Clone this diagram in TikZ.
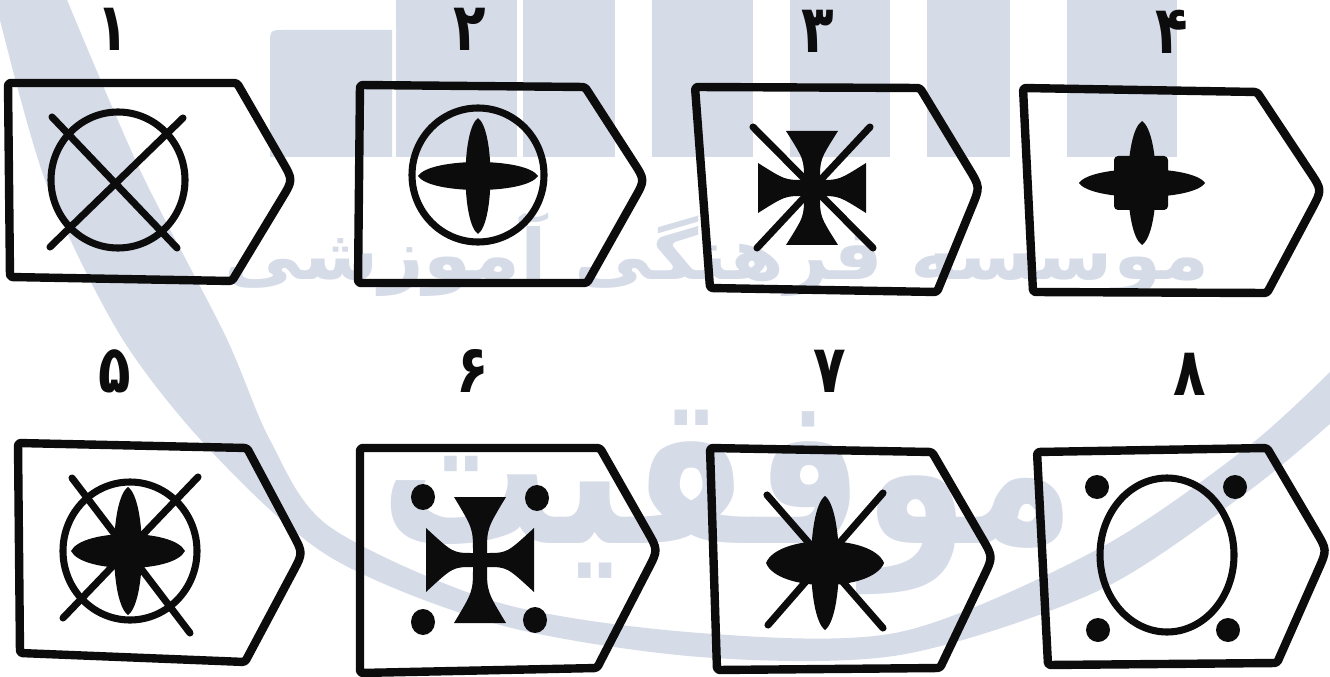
\documentclass[tikz,border=0pt]{standalone}
\usepackage{fontspec}
\usepackage{graphicx}
\usetikzlibrary{calc}
\newfontfamily\digitfont[Script=Arabic]{DejaVu Sans}
\TeXXeTstate=1
\definecolor{wm}{RGB}{214,219,232}
\definecolor{ink}{RGB}{12,12,12}
\tikzset{
  tag/.style={draw=ink, line width=6.3pt, line join=round, rounded corners=2pt},
  xline/.style={draw=ink, line width=5.3pt, line cap=round},
  ring/.style={draw=ink, line width=5.3pt},
  digit/.style={font=\digitfont\bfseries\fontsize{50}{50}\selectfont, text=ink, inner sep=0pt, xscale=0.8, text height=31pt, text depth=0pt},
  wmtext/.style={font=\digitfont\bfseries, text=wm, inner sep=0pt},
}
% tag outline: top-left, top-right, tip, bottom-right, bottom-left
\newcommand\tagshape[5]{\draw[tag] #1 -- #2 -- ($#3!18pt!#2$) .. controls #3 .. ($#3!18pt!#4$) -- #4 -- #5 -- cycle;}
% horizontal / vertical lens petals: centre x, centre y, half length, half width
\newcommand\lensh[4]{\fill[ink,shift={(#1,#2)}] (-#3,0) .. controls ({-0.8*#3},{1.333*#4}) and ({0.8*#3},{1.333*#4}) .. (#3,0) .. controls ({0.8*#3},{-1.333*#4}) and ({-0.8*#3},{-1.333*#4}) .. (-#3,0) -- cycle;}
\newcommand\lensv[4]{\fill[ink,shift={(#1,#2)}] (0,-#3) .. controls ({1.333*#4},{-0.8*#3}) and ({1.333*#4},{0.8*#3}) .. (0,#3) .. controls ({-1.333*#4},{0.8*#3}) and ({-1.333*#4},{-0.8*#3}) .. (0,-#3) -- cycle;}
% cross pattee: cx, cy, vertical arm length, horizontal arm length, vertical end half width, horizontal end half width, stem half width
\newcommand\crosspattee[7]{\fill[ink,shift={(#1,#2)}]
  (-#5,-#3) -- (#5,-#3) .. controls (#7,{-0.5*#3}) .. (#7,-#7) .. controls ({0.5*#4},-#7) .. (#4,-#6)
  -- (#4,#6) .. controls ({0.5*#4},#7) .. (#7,#7) .. controls (#7,{0.5*#3}) .. (#5,#3)
  -- (-#5,#3) .. controls (-#7,{0.5*#3}) .. (-#7,#7) .. controls ({-0.5*#4},#7) .. (-#4,#6)
  -- (-#4,-#6) .. controls ({-0.5*#4},-#7) .. (-#7,-#7) .. controls (-#7,{-0.5*#3}) .. (-#5,-#3) -- cycle;}
\begin{document}
\begin{tikzpicture}[x=0.75pt,y=-0.75pt]
\useasboundingbox (0,0) rectangle (1330,677);
\fill[white] (0,0) rectangle (1330,677);
% ---------- watermark ----------
\begin{scope}
\clip (0,0) rectangle (1330,677);
\fill[wm] plot[smooth] coordinates {(-5,0) (45,180) (120,335) (210,450) (330,557) (500,625) (700,657) (900,655) (1100,590) (1250,490) (1340,415)}
  -- plot[smooth] coordinates {(1340,362) (1250,445) (1100,548) (900,632) (700,633) (500,603) (330,527) (270,440) (225,335) (140,170) (65,-5)} -- cycle;
\fill[wm] (270,157) -- (270,45) .. controls (270,30) .. (285,30) -- (392,30) -- (392,157) -- cycle;
\fill[wm] (396,0) rectangle (517,157);
\fill[wm] (523,0) rectangle (615,157);
\fill[wm] (652,0) rectangle (753,157);
\fill[wm] (790,0) rectangle (890,157);
\fill[wm] (927,0) rectangle (1010,157);
\fill[wm] (1067,0) rectangle (1177,157);
\node[wmtext] (wmA) at (717,255) {\resizebox{739pt}{50pt}{\beginR موسسه فرهنگی آموزشی\endR}};
\node[wmtext, anchor=north] (wmB) at (728,410) {\resizebox{520pt}{100pt}{\beginR موفقیت\endR}};
\end{scope}
% ---------- digits ----------
\node[digit] (d1) at (113,30) {۱};
\node[digit] (d2) at (470,30) {۲};
\node[digit] (d3) at (818,32) {۳};
\node[digit] (d4) at (1172,33) {۴};
\node[digit] (d5) at (115,372) {۵};
\node[digit] (d6) at (473,372) {۶};
\node[digit] (d7) at (830,372) {۷};
\node[digit] (d8) at (1190,375) {۸};
% ---------- 1 ----------
\tagshape{(8,83)}{(237,83)}{(293,180)}{(232,281)}{(10,277)}
\draw[ring] (118,180) ellipse [x radius=67, y radius=68];
\draw[xline] (52,117) -- (177,248);
\draw[xline] (183,118) -- (50,247);
% ---------- 2 ----------
\tagshape{(360,85)}{(585,87)}{(645,180)}{(587,283)}{(358,283)}
\draw[ring] (478,175) ellipse [x radius=66, y radius=67];
\lensv{478}{176}{58}{12.5}
\lensh{478}{176}{60}{14}
% ---------- 3 ----------
\tagshape{(695,87)}{(920,88)}{(980,187)}{(937,292)}{(710,288)}
\crosspattee{812}{188}{57}{54}{26}{25}{8}
\draw[xline] (753,127) -- (873,248);
\draw[xline] (870,127) -- (757,248);
% ---------- 4 ----------
\tagshape{(1023,88)}{(1257,92)}{(1322,190)}{(1267,293)}{(1033,292)}
\lensv{1142}{183}{62}{14}
\lensh{1142}{183}{63}{14}
\fill[ink, rounded corners=3pt] (1114,156) rectangle (1168,210);
% ---------- 5 ----------
\tagshape{(18,443)}{(247,448)}{(303,553)}{(245,662)}{(20,653)}
\draw[ring] (130,551) ellipse [x radius=67, y radius=69];
\draw[xline] (72,478) -- (190,633);
\draw[xline] (198,477) -- (63,618);
\lensv{128}{551}{64}{14}
\lensh{128}{551}{57}{17}
% ---------- 6 ----------
\tagshape{(360,448)}{(600,448)}{(658,550)}{(597,668)}{(360,673)}
\crosspattee{480}{560}{63}{54}{26}{32}{7}
\fill[ink] (423,497) ellipse [x radius=12, y radius=13];
\fill[ink] (537,498) ellipse [x radius=12, y radius=13];
\fill[ink] (423,622) ellipse [x radius=12, y radius=13];
\fill[ink] (535,620) ellipse [x radius=12, y radius=13];
% ---------- 7 ----------
\tagshape{(710,448)}{(932,452)}{(993,557)}{(940,668)}{(717,670)}
\draw[xline] (767,495) -- (883,628);
\draw[xline] (883,493) -- (768,625);
\lensv{825}{563}{67}{14}
\lensh{825}{563}{59}{22}
% ---------- 8 ----------
\tagshape{(1037,452)}{(1267,448)}{(1327,550)}{(1277,663)}{(1048,665)}
\draw[ring] (1167,555) ellipse [x radius=67, y radius=77];
\fill[ink] (1097,487) circle [radius=12];
\fill[ink] (1235,487) circle [radius=12];
\fill[ink] (1098,630) circle [radius=12];
\fill[ink] (1228,630) circle [radius=12];
\end{tikzpicture}
\end{document}
